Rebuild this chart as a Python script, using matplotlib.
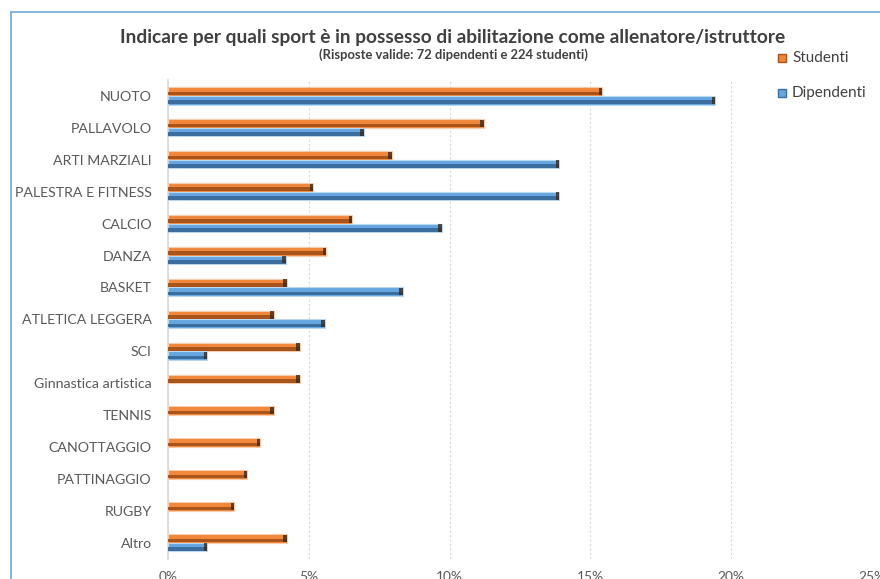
import numpy as np
import matplotlib.pyplot as plt
from matplotlib.patches import Rectangle
from matplotlib.lines import Line2D
from matplotlib.ticker import FuncFormatter, MultipleLocator

plt.rcParams['font.family'] = ['Lato', 'DejaVu Sans']

categories = ["NUOTO", "PALLAVOLO", "ARTI MARZIALI", "PALESTRA E FITNESS", "CALCIO",
              "DANZA", "BASKET", "ATLETICA LEGGERA", "SCI", "Ginnastica artistica",
              "TENNIS", "CANOTTAGGIO", "PATTINAGGIO", "RUGBY", "Altro"]
# percentuali
studenti = [15.42, 11.21, 7.94, 5.14, 6.54, 5.61, 4.21, 3.74, 4.67, 4.67, 3.74, 3.27, 2.80, 2.34, 4.21]
dipendenti = [19.44, 6.94, 13.89, 13.89, 9.72, 4.17, 8.33, 5.56, 1.39, 0, 0, 0, 0, 0, 1.39]

W, H = 880, 579
fig = plt.figure(figsize=(W / 100, H / 100), dpi=100)
ax = fig.add_axes([168.3 / W, 1 - 558.7 / H, (871.7 - 168.3) / W, (558.7 - 80) / H])

y = np.arange(len(categories))
h = 0.27

ORANGE = ("#F8CBAD", "#F0873A", "#A9541A")
BLUE = ("#BDD7EE", "#65A6E0", "#3B6E9E")


def bevel_bars(ypos, vals, colors):
    vals = np.asarray(vals, dtype=float)
    m = vals > 0
    light, main, dark = colors
    ax.barh(ypos[m], vals[m], height=h, color=main, edgecolor=light, linewidth=0.8, zorder=3)
    # lower half darker (y axis is inverted, so +y goes down)
    ax.barh(ypos[m] + h * 0.22, vals[m], height=h * 0.42, color=dark, linewidth=0, zorder=4)
    # dark end cap
    ax.barh(ypos[m], np.full(m.sum(), 0.12), left=vals[m] - 0.12, height=h * 0.85,
            color="#3a2a20", linewidth=0, zorder=5, alpha=0.8)


bevel_bars(y - h / 2, studenti, ORANGE)
bevel_bars(y + h / 2, dipendenti, BLUE)

ax.set_xlim(0, 25)
ax.set_ylim(len(categories) - 0.5, -0.5)
ax.xaxis.set_major_locator(MultipleLocator(5))
ax.xaxis.set_major_formatter(FuncFormatter(lambda v, p: f"{v:.0f}%"))
ax.set_yticks(y)
ax.set_yticklabels(categories)
ax.tick_params(axis="x", length=0, pad=9, labelsize=9.9, labelcolor="#595959")
ax.tick_params(axis="y", length=0, pad=12, labelsize=10.2, labelcolor="#595959")
ax.grid(axis="x", color="#D9D9D9", linestyle=(0, (2, 2)), linewidth=0.8, zorder=0)
for s in ("top", "right", "bottom"):
    ax.spines[s].set_visible(False)
ax.spines["left"].set_color("#D9D9D9")
ax.spines["left"].set_linewidth(1.2)

# cornice esterna
fig.add_artist(Line2D([11 / W, 11 / W], [0, 1 - 12 / H], color="#6FA8DC", lw=1.2))
fig.add_artist(Line2D([11 / W, 1], [1 - 12 / H, 1 - 12 / H], color="#6FA8DC", lw=1.2))

fig.text(453 / W, 1 - 37 / H,
         "Indicare per quali sport è in possesso di abilitazione come allenatore/istruttore",
         ha="center", va="center", fontsize=13.8, weight="bold", color="#404040")
fig.text(453 / W, 1 - 54.5 / H, "(Risposte valide: 72 dipendenti e 224 studenti)",
         ha="center", va="center", fontsize=9.4, weight="bold", color="#404040")

# legenda
for (lab, cols, yc) in (("Studenti", ORANGE, 58.3), ("Dipendenti", BLUE, 93.3)):
    fig.add_artist(Rectangle((778 / W, 1 - (yc + 4) / H), 8 / W, 8 / H,
                             facecolor=cols[1], edgecolor=cols[2], lw=1.0,
                             transform=fig.transFigure))
    fig.text(792 / W, 1 - yc / H, lab, ha="left", va="center", fontsize=11, color="#404040")

fig.savefig("out.png", dpi=100)
